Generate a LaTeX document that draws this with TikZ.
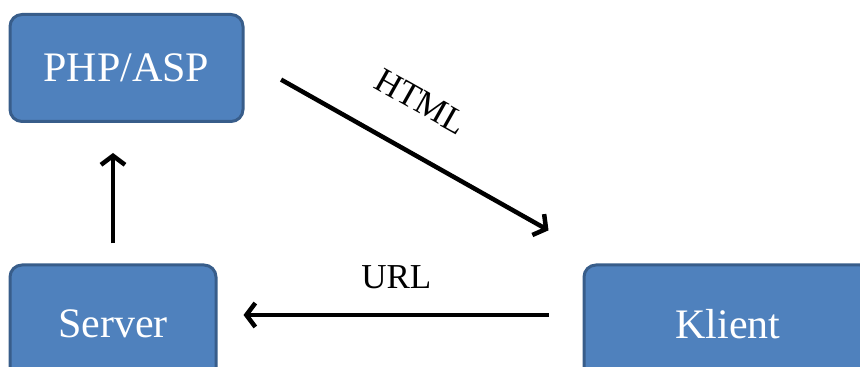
\documentclass[tikz,border=0pt]{standalone}
\usepackage{fontspec}
\setmainfont{Liberation Serif}
\usepackage{tikz}
\usetikzlibrary{arrows.meta}
\definecolor{boxfill}{HTML}{4F81BD}
\definecolor{boxline}{HTML}{385D8A}
\tikzset{box/.style={draw=boxline, fill=boxfill, line width=3pt, rounded corners=12pt, text=white, font=\rmfamily\fontsize{42}{50}\selectfont, inner sep=0pt},
%black arrows with an open head
arr/.style={line width=4.5pt, -{Straight Barb[length=9pt,width=24pt]}},
lbl/.style={font=\rmfamily\fontsize{35}{42}\selectfont, inner sep=0pt}}

\begin{document}
\begin{tikzpicture}[x=1pt,y=1pt]
\useasboundingbox (0,0) rectangle (860,367);
\clip (0,0) rectangle (860,367);
%\draw [help lines] (0,0) grid (860,367);

% boxes
\node[box, minimum width=233pt, minimum height=107pt] (php) at (126.5,299) {PHP/ASP};
\node[box, minimum width=206pt, minimum height=118pt] (server) at (113,43) {Server};
\node[box, minimum width=288pt, minimum height=118pt] (klient) at (728,43) {Klient};

% arrows
\draw [arr, shorten <=20pt, shorten >=30pt] (server.north) -- (server.north |- php.south);
\draw [arr, shorten <=42pt, shorten >=39pt] ([yshift=9pt]php.east) -- ([yshift=14pt]klient.north west)
      node[lbl, pos=0.45, sloped, above=36pt] {HTML};
\draw [arr, shorten <=34pt, shorten >=26pt] ([yshift=9pt]klient.west) -- ([yshift=9pt]server.east)
      node[lbl, pos=0.51, above=24pt] {URL};

\end{tikzpicture}
\end{document}
